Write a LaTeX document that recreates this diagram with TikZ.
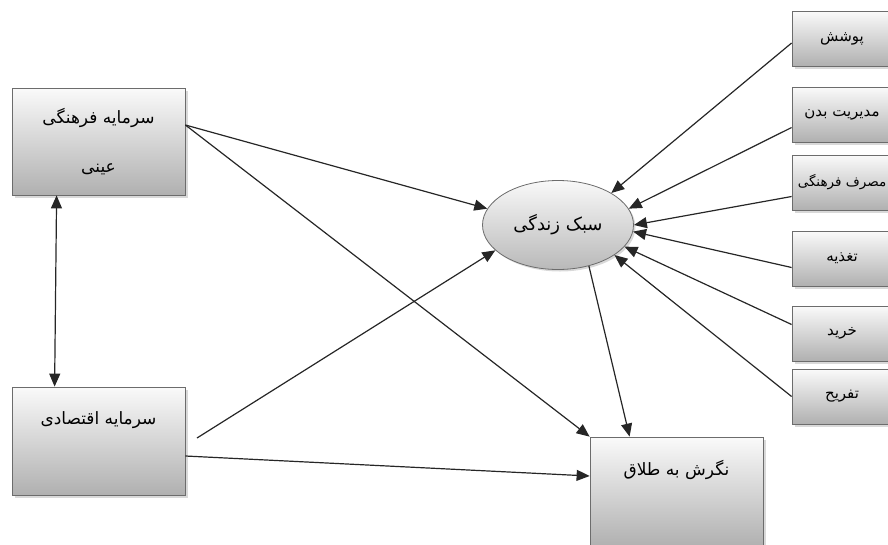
\documentclass[tikz,border=0pt]{standalone}
\usepackage{fontspec}
\usetikzlibrary{arrows.meta,shapes.geometric,shadows}
\TeXXeTstate=1
\newfontfamily\farsifont[Script=Arabic]{DejaVu Sans}
\newcommand{\fatext}[1]{{\farsifont\beginR #1\endR}}

\begin{document}
\begin{tikzpicture}[x=1pt,y=-1pt,
  box/.style={rectangle,draw=gray!85!black,line width=0.8pt,inner sep=0pt,
    top color=gray!4,bottom color=gray!62,
    drop shadow={shadow xshift=2.5pt,shadow yshift=-2.5pt,opacity=0.3},
    font=\fontsize{17}{20}\selectfont},
  mainbox/.style={box,minimum width=173pt,minimum height=108pt},
  toptext/.style={text height=12pt,text depth=46pt},
  sidebox/.style={box,minimum width=100pt,minimum height=55pt,
    font=\fontsize{15}{18}\selectfont},
  lifestyle/.style={ellipse,draw=gray!85!black,line width=0.8pt,inner sep=0pt,
    minimum width=151pt,minimum height=89pt,
    top color=gray!5,bottom color=gray!55,
    drop shadow={shadow xshift=2pt,shadow yshift=-2pt,opacity=0.3},
    font=\fontsize{18}{21}\selectfont},
  link/.style={draw=black!85,line width=1.2pt,-{Triangle[length=13pt,width=11pt]}},
  twoway/.style={draw=black!85,line width=1.2pt,{Triangle[length=13pt,width=11pt]}-{Triangle[length=13pt,width=11pt]}}]
\useasboundingbox (0,0) rectangle (888,544);
\clip (0,0) rectangle (888,544);
\node [mainbox,minimum height=107pt,align=center] (farhangi) at (98.5,141.5) {\fatext{سرمایه فرهنگی}\\[29pt]\fatext{عینی}};
\node [mainbox,toptext] (eghtesadi) at (98.5,441) {\fatext{سرمایه اقتصادی}};
\node [mainbox,minimum height=110pt,toptext] (talagh) at (676.5,492) {\fatext{نگرش به طلاق}};
\node [lifestyle] (sabk) at (558,225) {\fatext{سبک زندگی}};
\node [sidebox] (pooshesh) at (842,38.5) {\fatext{پوشش}};
\node [sidebox] (badan) at (842,114.5) {\fatext{مدیریت بدن}};
\node [sidebox,font=\fontsize{13.5}{16}\selectfont] (masraf) at (842,182.5) {\fatext{مصرف فرهنگی}};
\node [sidebox] (taghzie) at (842,258.5) {\fatext{تغذیه}};
\node [sidebox] (kharid) at (842,333.5) {\fatext{خرید}};
\node [sidebox] (tafrih) at (842,396.5) {\fatext{تفریح}};
\coordinate (farhangiout) at ([yshift=16.5pt]farhangi.east);
\coordinate (eghtesadiout) at (197,438);
\draw [link] (farhangiout) -- (sabk.167);
\draw [link] (farhangiout) -- (talagh.north west);
\draw [twoway] ([xshift=45pt]farhangi.south west) -- ([xshift=43pt]eghtesadi.north west);
\draw [link] (eghtesadiout) -- (sabk.202);
\draw [link] ([yshift=-15pt]eghtesadi.east) -- ([yshift=16pt]talagh.west);
\draw [link] (sabk.-53) -- ([xshift=40pt]talagh.north west);
\foreach \n/\dy/\a in {pooshesh/-4.5/31,badan/-13/13,masraf/-14/0,taghzie/-9/-5,kharid/9/-18,tafrih/0/-28}
  \draw [link] ([yshift=\dy pt]\n.west) -- (sabk.\a);
\end{tikzpicture}
\end{document}
